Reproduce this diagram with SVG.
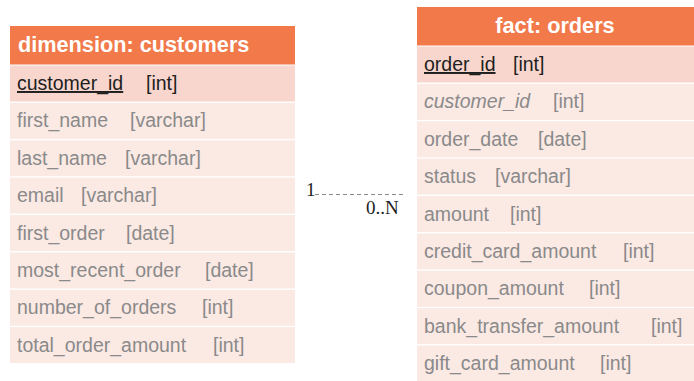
<svg xmlns="http://www.w3.org/2000/svg" width="694" height="381" viewBox="0 0 694 381">
<style>
.hdr{fill:#F1794A}
.pk{fill:#F8D6CD}
.row{fill:#FBE9E4}
.ht{font-family:"Liberation Sans",Arial,sans-serif;font-weight:bold;font-size:21.7px;fill:#ffffff}
.f{font-family:"Liberation Sans",Arial,sans-serif;font-size:19.5px;fill:#8a8a8a}
.k{fill:#1e1e1e}
.u{text-decoration:underline}
.i{font-style:italic}
.card{font-family:"Liberation Serif","Times New Roman",serif;font-size:19px;fill:#222}
</style>
<rect width="694" height="381" fill="#ffffff"/>
<g id="customers">
<rect class="hdr" x="10" y="26" width="285" height="38.5"/>
<text class="ht" x="18" y="52">dimension: customers</text>
<rect class="pk" x="10" y="65.5" width="285" height="36"/>
<text class="f k u" x="17" y="90">customer_id</text><text class="f k" x="146" y="90">[int]</text>
<rect class="row" x="10" y="102.9" width="285" height="36"/>
<text class="f" x="17" y="127.4">first_name</text><text class="f" x="130" y="127.4">[varchar]</text>
<rect class="row" x="10" y="140.3" width="285" height="36"/>
<text class="f" x="17" y="164.8">last_name</text><text class="f" x="125" y="164.8">[varchar]</text>
<rect class="row" x="10" y="177.6" width="285" height="36"/>
<text class="f" x="17" y="202.1">email</text><text class="f" x="81" y="202.1">[varchar]</text>
<rect class="row" x="10" y="215" width="285" height="36"/>
<text class="f" x="17" y="239.5">first_order</text><text class="f" x="126" y="239.5">[date]</text>
<rect class="row" x="10" y="252.4" width="285" height="36"/>
<text class="f" x="17" y="276.9">most_recent_order</text><text class="f" x="205" y="276.9">[date]</text>
<rect class="row" x="10" y="289.8" width="285" height="36"/>
<text class="f" x="17" y="314.3">number_of_orders</text><text class="f" x="202" y="314.3">[int]</text>
<rect class="row" x="10" y="327.1" width="285" height="36"/>
<text class="f" x="17" y="351.6">total_order_amount</text><text class="f" x="213" y="351.6">[int]</text>
</g>
<g id="orders">
<rect class="hdr" x="417" y="7" width="277" height="38.5"/>
<text class="ht" x="555" y="33" text-anchor="middle">fact: orders</text>
<rect class="pk" x="417" y="46.5" width="277" height="36"/>
<text class="f k u" x="424" y="71">order_id</text><text class="f k" x="513" y="71">[int]</text>
<rect class="row" x="417" y="83.9" width="277" height="36"/>
<text class="f i" x="424" y="108.4">customer_id</text><text class="f" x="553" y="108.4">[int]</text>
<rect class="row" x="417" y="121.3" width="277" height="36"/>
<text class="f" x="424" y="145.8">order_date</text><text class="f" x="538" y="145.8">[date]</text>
<rect class="row" x="417" y="158.6" width="277" height="36"/>
<text class="f" x="424" y="183.1">status</text><text class="f" x="495" y="183.1">[varchar]</text>
<rect class="row" x="417" y="196" width="277" height="36"/>
<text class="f" x="424" y="220.5">amount</text><text class="f" x="510" y="220.5">[int]</text>
<rect class="row" x="417" y="233.4" width="277" height="36"/>
<text class="f" x="424" y="257.9">credit_card_amount</text><text class="f" x="623" y="257.9">[int]</text>
<rect class="row" x="417" y="270.8" width="277" height="36"/>
<text class="f" x="424" y="295.3">coupon_amount</text><text class="f" x="589" y="295.3">[int]</text>
<rect class="row" x="417" y="308.1" width="277" height="36"/>
<text class="f" x="424" y="332.6">bank_transfer_amount</text><text class="f" x="651" y="332.6">[int]</text>
<rect class="row" x="417" y="345.5" width="277" height="36"/>
<text class="f" x="424" y="370">gift_card_amount</text><text class="f" x="600" y="370">[int]</text>
</g>
<g id="connectors">
<line x1="315" y1="194.5" x2="406" y2="194.5" stroke="#8a8a8a" stroke-width="1" stroke-dasharray="4,3"/>
<text class="card" x="306" y="196">1</text>
<text class="card" x="366" y="214">0..N</text>
</g>
</svg>
